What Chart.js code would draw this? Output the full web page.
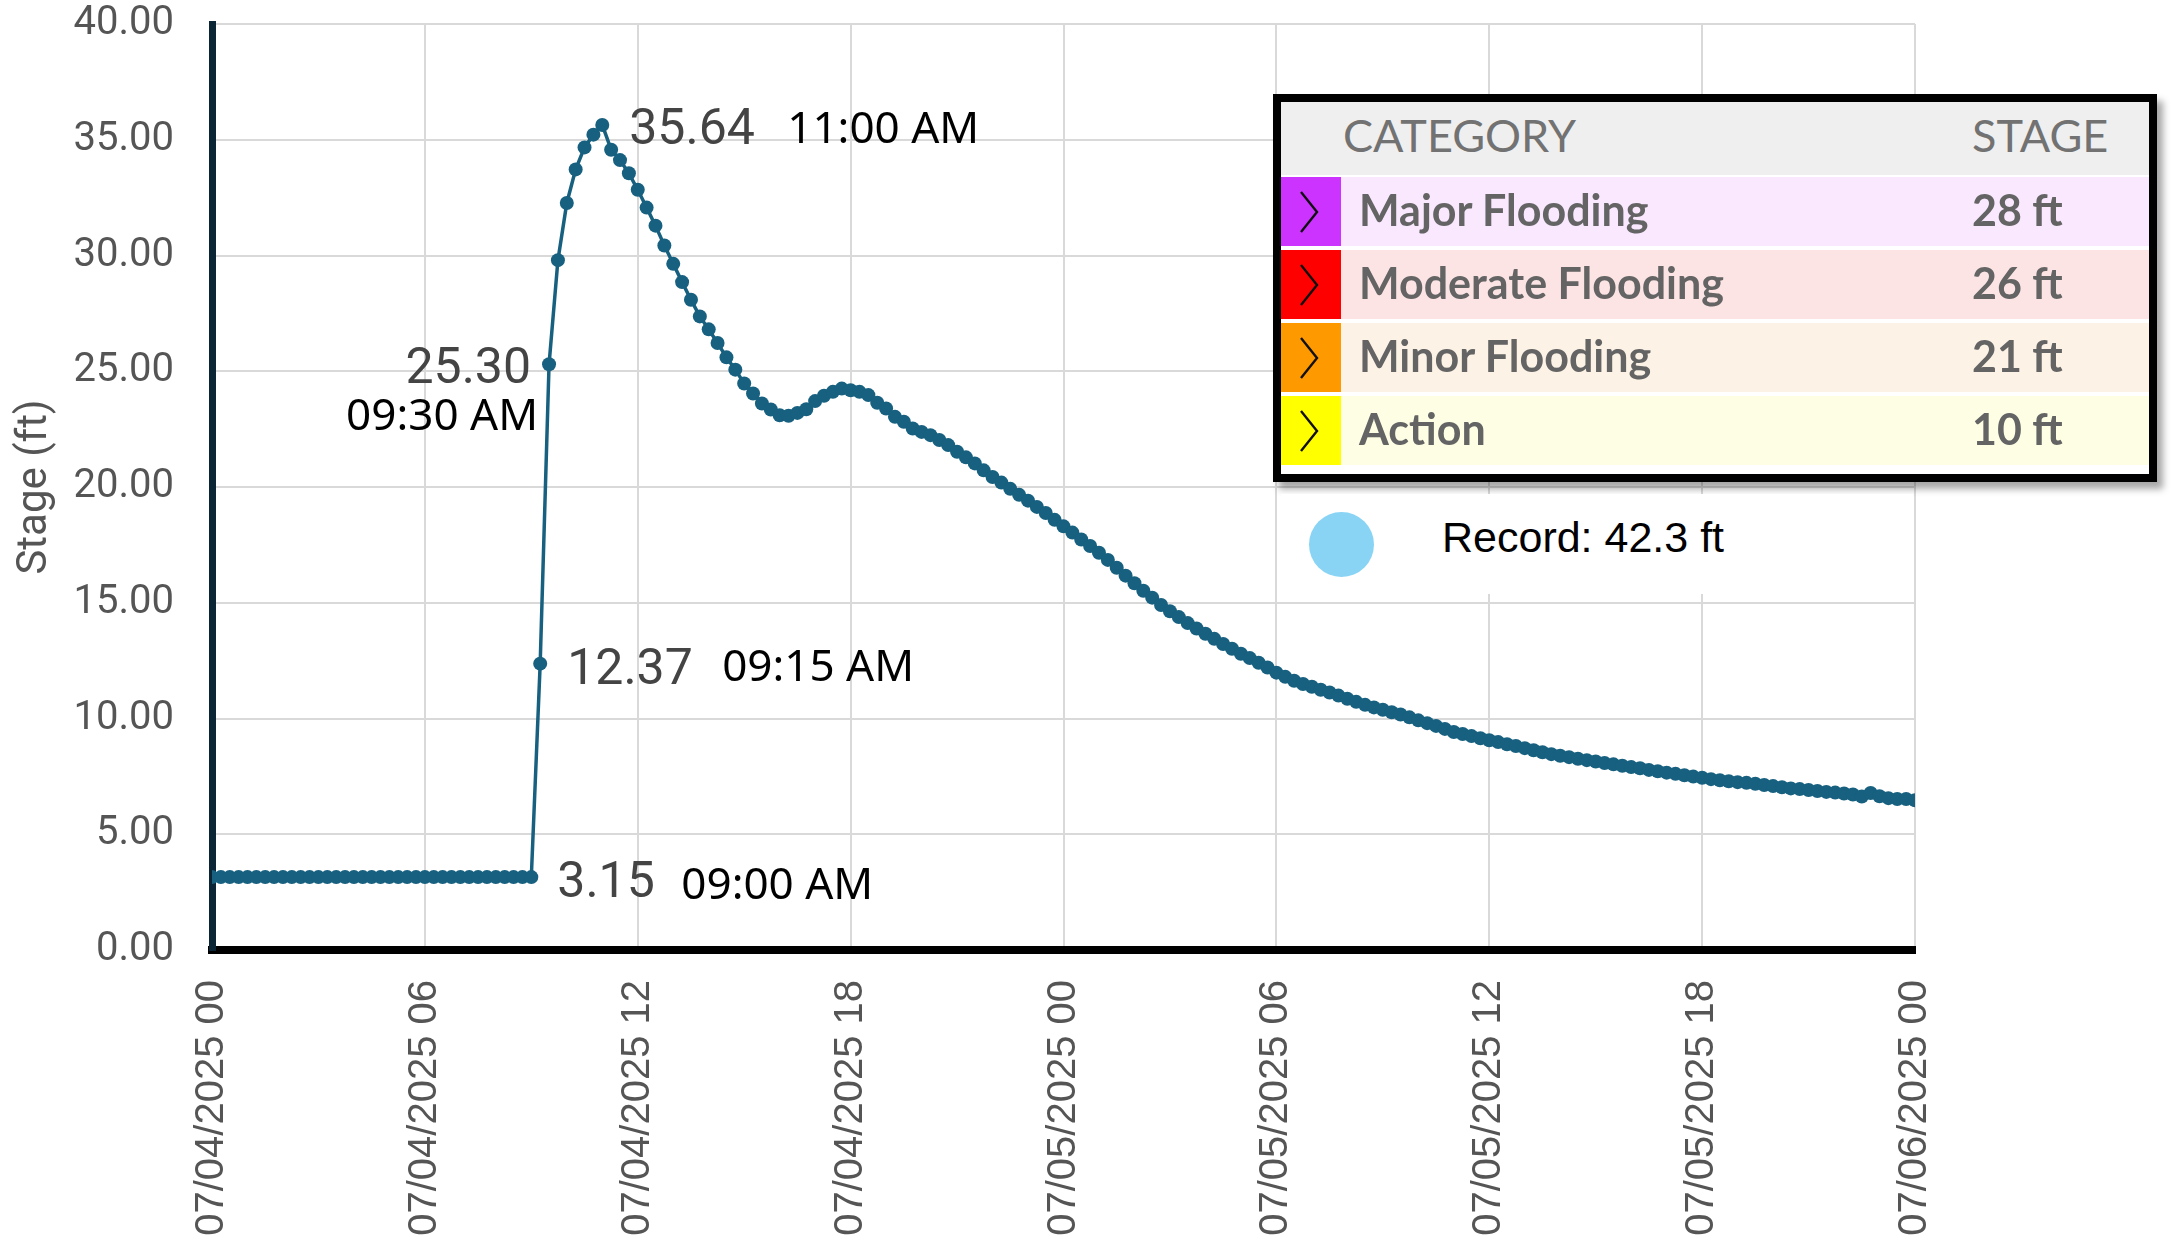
<!DOCTYPE html>
<html>
<head>
<meta charset="utf-8">
<script src="https://cdn.jsdelivr.net/npm/chart.js@4.4.1/dist/chart.umd.min.js"></script>
<style>
  html, body { margin: 0; padding: 0; background: #fff; }
  #wrap { position: relative; width: 2172px; height: 1248px; overflow: hidden; }
  #c { position: absolute; left: 0; top: 0; }
  #box { position: absolute; left: 1273px; top: 94px; width: 884px; height: 388px; box-sizing: border-box;
         border: 8px solid #000; background: #fff; box-shadow: 6px 7px 7px rgba(0,0,0,0.35); }
  #hdr { position: absolute; left: 0; top: 0; width: 868px; height: 73px; background: #efefef;
         font-family: Lato, sans-serif; font-size: 45px; color: #727272; }
  #hdr span { position: absolute; top: 50%; transform: translateY(-57%); }
  .row { position: absolute; left: 0; width: 868px; height: 69px; font-family: Lato, sans-serif;
         font-weight: 700; font-size: 43px; color: #646464; }
  .row .sw { position: absolute; left: 0; top: 0; width: 60px; height: 69px; }
  .row .sw svg { position: absolute; left: 16px; top: 12px; }
  .row .nm { position: absolute; left: 78px; top: 50%; transform: translateY(-55%); }
  .row .st { position: absolute; left: 691px; top: 50%; transform: translateY(-55%); }
  #rec { position: absolute; left: 1281px; top: 494px; width: 632px; height: 100px; background: #fff; }
  #recDot { position: absolute; left: 28px; top: 18px; width: 65px; height: 65px; border-radius: 50%; background: #89d4f5; }
  #recTxt { position: absolute; left: 161px; top: 43px; transform: translateY(-50%);
            font-family: "Liberation Sans", Arial, sans-serif; font-size: 43px; color: #000; }
</style>
</head>
<body>
<div id="wrap">
  <canvas id="c" width="2172" height="1248"></canvas>
  <div id="box"><div id="hdr"></div></div>
  <div id="rec"><div id="recDot"></div><div id="recTxt"></div></div>
</div>
<script>
// ---------------- DATA ----------------
const seriesStart = '07/04/2025 00:00';
const intervalMinutes = 15;

// Stage readings (ft), one every 15 minutes from 07/04/2025 00:00 to 07/06/2025 00:00
const stageFt = [
  // 00:00 - 09:00
  3.15, 3.15, 3.15, 3.15, 3.15, 3.15, 3.15, 3.15, 3.15, 3.15,
  3.15, 3.15, 3.15, 3.15, 3.15, 3.15, 3.15, 3.15, 3.15, 3.15,
  3.15, 3.15, 3.15, 3.15, 3.15, 3.15, 3.15, 3.15, 3.15, 3.15,
  3.15, 3.15, 3.15, 3.15, 3.15, 3.15, 3.15,
  // 09:15 - 11:00
  12.37, 25.30, 29.80, 32.27, 33.72, 34.67, 35.22, 35.64,
  // 11:15 - 20:45
  34.57, 34.12, 33.55, 32.84, 32.07, 31.29, 30.43, 29.64, 28.85, 28.09,
  27.37, 26.81, 26.22, 25.60, 25.07, 24.47, 24.04, 23.61, 23.35, 23.10,
  23.08, 23.20, 23.36, 23.71, 23.94, 24.11, 24.25, 24.18, 24.11, 23.97,
  23.64, 23.39, 23.03, 22.82, 22.53, 22.38, 22.24, 22.03, 21.81,
  // 21:00 - 23:45
  21.52, 21.28, 21.02, 20.72, 20.43, 20.19, 19.92, 19.66, 19.41, 19.14, 18.88, 18.58,
  // 07/05 00:00 - 05:45
  18.30, 18.03, 17.73, 17.45, 17.16, 16.85, 16.51, 16.17, 15.84, 15.52, 15.22, 14.90,
  14.63, 14.38, 14.12, 13.89, 13.66, 13.44, 13.22, 13.01, 12.80, 12.61, 12.41, 12.20,
  // 06:00 - 11:45
  11.98, 11.80, 11.63, 11.49, 11.37, 11.24, 11.12, 10.99, 10.85, 10.72, 10.59, 10.48,
  10.38, 10.27, 10.17, 10.05, 9.92, 9.80, 9.68, 9.55, 9.42, 9.33, 9.24, 9.15,
  // 12:00 - 17:45
  9.06, 8.98, 8.89, 8.81, 8.72, 8.63, 8.54, 8.46, 8.39, 8.33, 8.26, 8.20,
  8.14, 8.08, 8.02, 7.96, 7.90, 7.85, 7.78, 7.72, 7.66, 7.61, 7.55, 7.49,
  // 18:00 - 23:45
  7.44, 7.38, 7.33, 7.29, 7.25, 7.22, 7.18, 7.13, 7.08, 7.03, 6.98, 6.95,
  6.91, 6.87, 6.83, 6.80, 6.76, 6.72, 6.63, 6.78, 6.64, 6.56, 6.52, 6.52,
  // 07/06 00:00
  6.47
];

const xTickLabels = ['07/04/2025 00', '07/04/2025 06', '07/04/2025 12', '07/04/2025 18',
                     '07/05/2025 00', '07/05/2025 06', '07/05/2025 12', '07/05/2025 18', '07/06/2025 00'];
const xTickStepHours = 6;
const yMin = 0, yMax = 40, yStep = 5;

// Annotated readings (indices into stageFt)
const annotatedIdx = [44, 38, 37, 36];

// Flood categories
const categoryNames  = ['Major Flooding', 'Moderate Flooding', 'Minor Flooding', 'Action'];
const categoryStages = [28, 26, 21, 10];
const recordStage = 42.3;

// ---------------- STYLE ----------------
const categoryColors = ['#cc33ff', '#ff0000', '#ff9900', '#ffff00'];
const categoryRowBg  = ['#f9e8fe', '#fde4e4', '#fcf2e5', '#fefee4'];
const lineColor = '#17607f';
const annoLayout = [
  { numAlign: 'left',  numDx: 27,  numDy: 19, timeAlign: 'left',  timeDx: 185, timeDy: 18 },
  { numAlign: 'right', numDx: -18, numDy: 19, timeAlign: 'right', timeDx: -11, timeDy: 66 },
  { numAlign: 'left',  numDx: 27,  numDy: 20, timeAlign: 'left',  timeDx: 182, timeDy: 17 },
  { numAlign: 'left',  numDx: 26,  numDy: 20, timeAlign: 'left',  timeDx: 150, timeDy: 22 }
];

// ---------------- HELPERS ----------------
function timeLabel(i) {
  const startMin = parseInt(seriesStart.slice(11, 13)) * 60 + parseInt(seriesStart.slice(14, 16));
  const m = (startMin + i * intervalMinutes) % 1440;
  let h = Math.floor(m / 60); const mm = m % 60;
  const ap = h >= 12 ? 'PM' : 'AM';
  h = h % 12; if (h === 0) h = 12;
  return String(h).padStart(2, '0') + ':' + String(mm).padStart(2, '0') + ' ' + ap;
}

// ---------------- LEGEND TABLE (HTML) ----------------
(function buildTable() {
  const box = document.getElementById('box');
  const hdr = document.getElementById('hdr');
  hdr.innerHTML = '<span style="left:62px">CATEGORY</span><span style="left:691px">STAGE</span>';
  const rowTops = [75, 148, 221, 294];
  categoryNames.forEach((name, k) => {
    const r = document.createElement('div');
    r.className = 'row';
    r.style.top = rowTops[k] + 'px';
    r.style.background = categoryRowBg[k];
    r.innerHTML =
      '<div class="sw" style="background:' + categoryColors[k] + '">' +
      '<svg width="24" height="46" viewBox="0 0 24 46"><polyline points="4,3 20,23 4,43" fill="none" stroke="#111" stroke-width="2.4"/></svg></div>' +
      '<span class="nm">' + name + '</span>' +
      '<span class="st">' + categoryStages[k] + ' ft</span>';
    box.appendChild(r);
  });
  document.getElementById('recTxt').textContent = 'Record: ' + recordStage + ' ft';
})();

// ---------------- CHART ----------------
const annoPlugin = {
  id: 'annoPlugin',
  afterDatasetsDraw(chart) {
    const ctx = chart.ctx;
    const meta = chart.getDatasetMeta(0);
    annotatedIdx.forEach((idx, k) => {
      const pt = meta.data[idx];
      const L = annoLayout[k];
      ctx.save();
      ctx.textBaseline = 'alphabetic';
      ctx.font = '50px Roboto';
      ctx.fillStyle = '#444444';
      ctx.textAlign = L.numAlign;
      ctx.fillText(stageFt[idx].toFixed(2), pt.x + L.numDx, pt.y + L.numDy);
      ctx.font = '44px "Noto Sans"';
      ctx.fillStyle = '#000000';
      ctx.textAlign = L.timeAlign;
      ctx.fillText(timeLabel(idx), pt.x + L.timeDx, pt.y + L.timeDy);
      ctx.restore();
    });
  }
};

const points = stageFt.map((v, i) => ({ x: i * intervalMinutes / 60, y: v }));

new Chart(document.getElementById('c'), {
  type: 'line',
  data: {
    datasets: [{
      data: points,
      borderColor: lineColor,
      borderWidth: 3.5,
      pointRadius: 7,
      pointBackgroundColor: lineColor,
      pointBorderWidth: 0,
      tension: 0
    }]
  },
  options: {
    responsive: false,
    devicePixelRatio: 1,
    animation: false,
    layout: { padding: { left: 0, right: 257, top: 24, bottom: 0 } },
    plugins: { legend: { display: false }, tooltip: { enabled: false } },
    scales: {
      x: {
        type: 'linear',
        min: 0,
        max: (xTickLabels.length - 1) * xTickStepHours,
        afterFit: s => { s.height = 298; s.paddingLeft = 0; s.paddingRight = 0; },
        afterBuildTicks: s => { s.ticks = xTickLabels.map((_, i) => ({ value: i * xTickStepHours })); },
        ticks: {
          stepSize: xTickStepHours,
          autoSkip: false,
          maxRotation: 90,
          minRotation: 90,
          padding: 30,
          color: '#555555',
          font: { family: '"Liberation Sans", Arial, sans-serif', size: 40 },
          callback: v => xTickLabels[Math.round(v / xTickStepHours)]
        },
        grid: { color: '#d9d9d9', lineWidth: 2, drawTicks: false },
        border: { display: true, color: '#000000', width: 8 }
      },
      y: {
        min: yMin,
        max: yMax,
        afterFit: s => { s.width = 212; s.paddingTop = 0; s.paddingBottom = 0; },
        ticks: {
          stepSize: yStep,
          padding: 38,
          color: '#555555',
          font: { family: 'Roboto', size: 40 },
          callback: v => v.toFixed(2)
        },
        grid: { color: '#d9d9d9', lineWidth: 2, drawTicks: false },
        border: { display: true, color: '#0b2436', width: 7 },
        title: {
          display: true,
          text: 'Stage (ft)',
          color: '#555555',
          font: { family: 'Roboto', size: 42 },
          padding: { top: 10, bottom: 0 }
        }
      }
    }
  },
  plugins: [annoPlugin]
});
</script>
</body>
</html>
